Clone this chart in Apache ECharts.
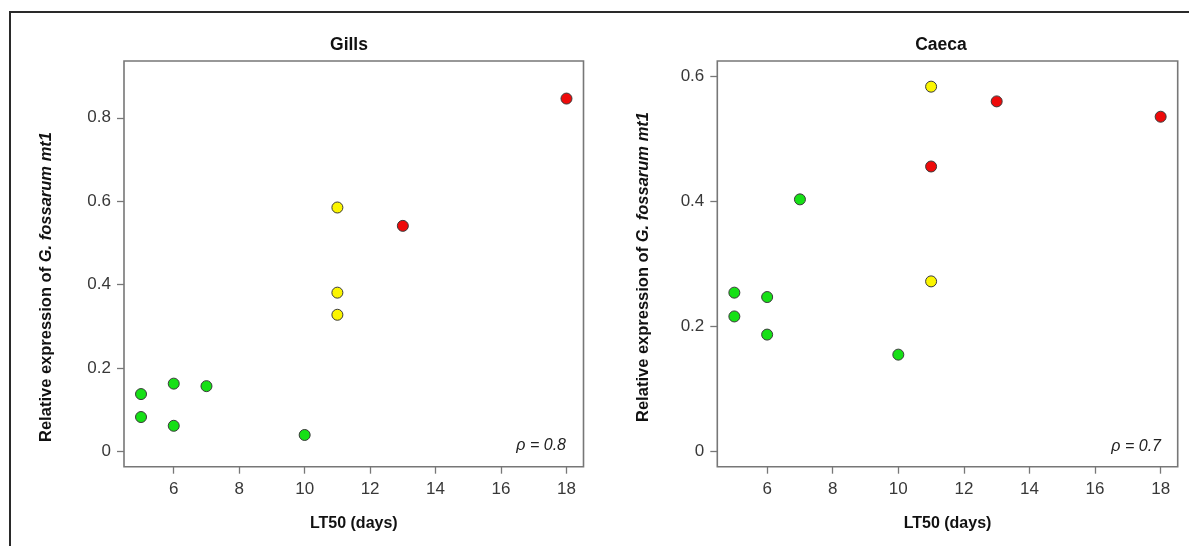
<!DOCTYPE html>
<html>
<head>
<meta charset="utf-8">
<script src="https://cdn.jsdelivr.net/npm/echarts@6/dist/echarts.min.js"></script>
<style>
html,body{margin:0;padding:0;background:#fff;}
#c{width:1189px;height:546px;}
</style>
</head>
<body>
<div id="c"></div>
<script>
// ---- data ----
const xTicks = [6, 8, 10, 12, 14, 16, 18];
const gillsYTicks = [0, 0.2, 0.4, 0.6, 0.8];
const caecaYTicks = [0, 0.2, 0.4, 0.6];
const panelTitles = ['Gills', 'Caeca'];
const rhoLabels = ['\u03C1 = 0.8', '\u03C1 = 0.7'];
const xName = 'LT50 (days)';

const gillsGreen  = [[5, 0.138], [5, 0.083], [6, 0.163], [6, 0.062], [7, 0.157], [10, 0.040]];
const gillsYellow = [[11, 0.585], [11, 0.381], [11, 0.328]];
const gillsRed    = [[13, 0.541], [18, 0.846]];

const caecaGreen  = [[5, 0.254], [5, 0.216], [6, 0.247], [6, 0.187], [7, 0.403], [10, 0.155]];
const caecaYellow = [[11, 0.583], [11, 0.272]];
const caecaRed    = [[11, 0.4555], [13, 0.5595], [18, 0.535]];

// ---- chart ----
const FONT = '"Liberation Sans", Arial, sans-serif';
const chart = echarts.init(document.getElementById('c'), null, {renderer: 'canvas'});

const grids = [
  {left: 124, top: 61, width: 459.5, height: 405.7},
  {left: 717.3, top: 61, width: 460.4, height: 405.7}
];

function xAxis(i) {
  return {
    type: 'value', gridIndex: i, min: 4.48, max: 18.52, position: 'bottom',
    splitLine: {show: false},
    axisLine: {show: false, onZero: false},
    axisTick: {show: true, inside: false, length: 7, customValues: xTicks, lineStyle: {color: '#777', width: 1.3}},
    axisLabel: {customValues: xTicks, margin: 14, color: '#383838', fontSize: 17, fontFamily: FONT}
  };
}
function yAxis(i, min, max, ticks) {
  return {
    type: 'value', gridIndex: i, min: min, max: max, position: 'left',
    splitLine: {show: false},
    axisLine: {show: false, onZero: false},
    axisTick: {show: true, inside: false, length: 7, customValues: ticks, lineStyle: {color: '#777', width: 1.3}},
    axisLabel: {customValues: ticks, margin: 13, color: '#383838', fontSize: 17, fontFamily: FONT}
  };
}
function sc(i, data, color) {
  return {
    type: 'scatter', xAxisIndex: i, yAxisIndex: i, data: data,
    symbol: 'circle', symbolSize: 11,
    itemStyle: {color: color, borderColor: '#3a3a3a', borderWidth: 1, opacity: 1},
    emphasis: {disabled: true}, silent: true
  };
}
const GREEN = '#16e016', YELLOW = '#fbf500', RED = '#ee0a0a';

function txt(x, y, text, size, opts) {
  return Object.assign({
    type: 'text', x: x, y: y, silent: true,
    style: Object.assign({
      text: text, fill: '#111', font: 'bold ' + size + 'px ' + FONT,
      align: 'center', verticalAlign: 'middle'
    }, (opts && opts.style) || {})
  }, (opts && opts.el) || {});
}

const yLab = '{n|Relative expression of }{i|G. fossarum mt1}';
const richY = {
  n: {fontSize: 16.5, fontWeight: 'bold', fontFamily: FONT, fill: '#111'},
  i: {fontSize: 16.5, fontWeight: 'bold', fontStyle: 'italic', fontFamily: FONT, fill: '#111'}
};

chart.setOption({
  animation: false,
  backgroundColor: '#fff',
  grid: grids.map(g => Object.assign({show: true, borderColor: '#777', borderWidth: 1.6, backgroundColor: 'transparent'}, g)),
  xAxis: [xAxis(0), xAxis(1)],
  yAxis: [yAxis(0, -0.036, 0.936, gillsYTicks), yAxis(1, -0.024, 0.624, caecaYTicks)],
  series: [
    sc(0, gillsGreen, GREEN), sc(0, gillsYellow, YELLOW), sc(0, gillsRed, RED),
    sc(1, caecaGreen, GREEN), sc(1, caecaYellow, YELLOW), sc(1, caecaRed, RED)
  ],
  graphic: [
    // outer frame (top & left visible)
    {type: 'polyline', silent: true, shape: {points: [[10, 546], [10, 12], [1189, 12]]},
     style: {stroke: '#2a2a2a', lineWidth: 2, fill: null}},
    txt(349, 45, panelTitles[0], 17.5),
    txt(941, 45, panelTitles[1], 17.5),
    txt(353.8, 524, xName, 16),
    txt(947.5, 524, xName, 16),
    {type: 'text', x: 46.5, y: 287, rotation: Math.PI / 2, silent: true,
     style: {text: yLab, rich: richY, align: 'center', verticalAlign: 'middle'}},
    {type: 'text', x: 643, y: 267, rotation: Math.PI / 2, silent: true,
     style: {text: yLab, rich: richY, align: 'center', verticalAlign: 'middle'}},
    txt(566, 446, rhoLabels[0], 16, {style: {font: 'italic 16px ' + FONT, fill: '#222', align: 'right'}}),
    txt(1161, 447, rhoLabels[1], 16, {style: {font: 'italic 16px ' + FONT, fill: '#222', align: 'right'}})
  ]
});
</script>
</body>
</html>
